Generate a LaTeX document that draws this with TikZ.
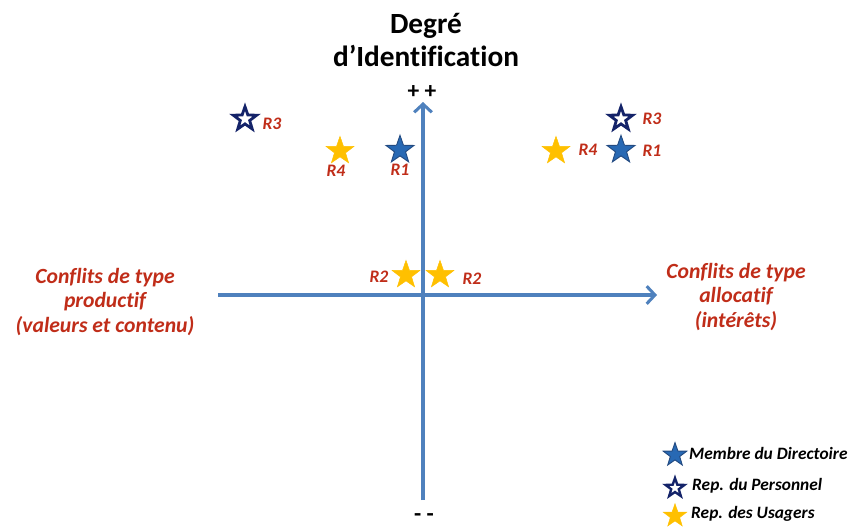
\documentclass[tikz,border=0pt]{standalone}
\usepackage{fontspec}
\setmainfont{Carlito}[Ligatures=NoCommon]
\usetikzlibrary{shapes.geometric,arrows.meta}
\definecolor{axisblue}{RGB}{79,129,189}
\definecolor{labelred}{RGB}{192,45,25}
\definecolor{dirblue}{RGB}{40,105,180}
\definecolor{dirdark}{RGB}{35,75,130}
\definecolor{persnavy}{RGB}{20,35,105}
\definecolor{usagold}{RGB}{255,192,0}
\tikzset{
  starbase/.style={star, star points=5, star point ratio=2.5, inner sep=0pt, minimum size=25pt},
  directoire/.style={starbase, fill=dirblue, draw=dirdark, line width=0.8pt},
  personnel/.style={starbase, fill=white, draw=persnavy, line width=2.4pt, minimum size=21pt},
  usager/.style={starbase, fill=usagold, draw=usagold, line width=0.4pt},
  rlabel/.style={text=labelred, font=\fontsize{15}{17}\selectfont\bfseries\itshape, inner sep=0pt},
  axislabel/.style={text=labelred, font=\fontsize{18.5}{20.5}\selectfont\bfseries\itshape, align=center, inner sep=0pt},
  titletext/.style={font=\fontsize{25}{28}\selectfont\bfseries, anchor=base, inner sep=0pt},
  legendtext/.style={font=\fontsize{14.8}{16}\selectfont\bfseries\itshape, anchor=base west, inner sep=0pt},
  axisline/.style={draw=axisblue, line width=2.6pt, -{Straight Barb[length=7pt,width=15pt]}},
}
\begin{document}
\begin{tikzpicture}[x=0.03cm, y=-0.03cm]
\useasboundingbox (0,0) rectangle (854,527);
\coordinate (vbot) at (423,500);
\coordinate (vtop) at (423,102);
\coordinate (hleft) at (218,295);
\coordinate (hright) at (657,295);
\draw[axisline] (vbot) -- (vtop);
\draw[axisline] (hleft) -- (hright);
\node[titletext] (degre) at (426,33) {Degré};
\node[titletext] (ident) at (426,66) {d’Identification};
\node[titletext, font=\fontsize{20}{24}\selectfont\bfseries] (plus) at (422,98) {+ +};
\node[font=\fontsize{20}{24}\selectfont\bfseries, inner sep=0pt] (moins) at (424,518) {- -};
\node[axislabel] (productif) at (105,302) {Conflits de type\\productif\\(valeurs et contenu)};
\node[axislabel] (allocatif) at (736,297) {Conflits de type\\allocatif\\(intérêts)};
% gauche
\node[personnel] (s3g) at (245,119) {};
\node[rlabel] (r3g) at (272,124) {R3};
\node[usager] (s4g) at (340,151) {};
\node[rlabel] (r4g) at (336,171) {R4};
\node[directoire] (s1g) at (400,150) {};
\node[rlabel] (r1g) at (400,170) {R1};
% droite
\node[personnel] (s3d) at (621,119) {};
\node[rlabel] (r3d) at (652,119) {R3};
\node[usager] (s4d) at (556,151) {};
\node[rlabel] (r4d) at (588,150) {R4};
\node[directoire] (s1d) at (621,150) {};
\node[rlabel] (r1d) at (652,151) {R1};
% centre
\node[usager] (s2g) at (406,275) {};
\node[rlabel] (r2g) at (379,277) {R2};
\node[usager] (s2d) at (440,275) {};
\node[rlabel] (r2d) at (472,279) {R2};
% legende
\node[directoire, minimum size=21pt] (legdir) at (675,455) {};
\node[legendtext] (txtdir) at (689,459) {Membre du Directoire};
\node[personnel, minimum size=17pt, line width=2pt] (legpers) at (675,488) {};
\node[legendtext] (txtpers) at (692,490) {Rep. du Personnel};
\node[usager, minimum size=21pt] (legusa) at (675,516) {};
\node[legendtext] (txtusa) at (691,518) {Rep. des Usagers};
\end{tikzpicture}
\end{document}
